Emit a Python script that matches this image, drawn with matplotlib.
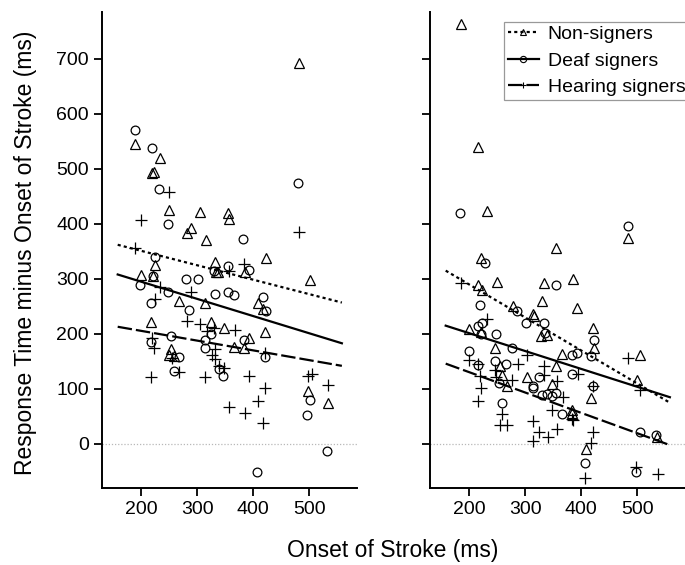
import matplotlib
matplotlib.use("Agg")
import matplotlib.pyplot as plt
from matplotlib.lines import Line2D

plt.rcParams["font.family"] = ["Liberation Sans", "DejaVu Sans"]

# -- Data ------------------------------------------------------------------
# left panel
L_NON_X = [482, 188, 233, 220, 222, 249, 304, 355, 356, 288, 282, 315, 225, 200,
           221, 268, 314, 331, 333, 337, 386, 423, 408, 417, 502, 325, 347, 218,
           254, 249, 258, 366, 384, 393, 421, 498, 533]
L_NON_Y = [693, 545, 520, 492, 494, 425, 421, 419, 409, 393, 384, 371, 325, 307,
           305, 259, 257, 330, 313, 312, 313, 338, 257, 245, 298, 221, 211, 221,
           172, 162, 159, 177, 174, 192, 204, 97, 75]

L_DEAF_X = [188, 220, 231, 248, 381, 480, 224, 221, 198, 248, 218, 280, 302, 286,
            330, 354, 392, 332, 354, 365, 417, 423, 325, 313, 313, 254, 218, 268,
            259, 338, 346, 384, 420, 502, 496, 532, 406]
L_DEAF_Y = [570, 537, 464, 400, 373, 475, 339, 305, 289, 276, 256, 300, 300, 244,
            315, 324, 316, 273, 276, 270, 267, 242, 200, 189, 174, 196, 186, 158,
            133, 136, 124, 189, 158, 80, 52, -12, -51]

L_HEAR_X = [199, 249, 482, 188, 234, 225, 288, 356, 383, 282, 304, 317, 330, 368,
            220, 222, 255, 268, 218, 314, 332, 326, 331, 339, 347, 421, 393, 421,
            356, 386, 408, 418, 498, 504, 533]
L_HEAR_Y = [407, 457, 385, 356, 286, 264, 276, 315, 327, 224, 218, 206, 210, 207,
            192, 174, 156, 131, 121, 122, 172, 162, 154, 141, 138, 165, 124, 101,
            68, 57, 78, 39, 124, 127, 107]

# right panel
R_NON_X = [186, 216, 231, 484, 355, 221, 215, 222, 249, 334, 385, 330, 393, 278,
           314, 316, 200, 221, 328, 339, 420, 423, 246, 255, 366, 355, 505, 303,
           259, 268, 348, 418, 499, 383, 384, 408, 535]
R_NON_Y = [764, 539, 424, 374, 357, 338, 288, 280, 295, 293, 299, 259, 248, 251,
           236, 233, 209, 204, 196, 198, 211, 174, 175, 142, 163, 142, 161, 122,
           126, 106, 109, 83, 116, 62, 56, -9, 12]

R_DEAF_X = [184, 484, 229, 354, 220, 286, 216, 222, 221, 247, 302, 333, 335, 422,
            417, 199, 277, 215, 246, 266, 383, 392, 384, 324, 253, 313, 313, 355,
            338, 330, 348, 421, 259, 366, 406, 505, 534, 497]
R_DEAF_Y = [419, 396, 328, 289, 253, 242, 215, 219, 200, 200, 219, 219, 201, 189,
            160, 169, 174, 144, 150, 146, 161, 166, 127, 122, 110, 106, 101, 92,
            91, 89, 87, 106, 74, 55, -34, 21, 16, -51]

R_HEAR_X = [185, 231, 199, 303, 216, 287, 334, 484, 394, 334, 246, 247, 220, 277,
            221, 216, 356, 368, 421, 505, 259, 255, 268, 347, 384, 385, 314, 325,
            340, 314, 356, 421, 418, 406, 497, 536]
R_HEAR_Y = [293, 227, 153, 162, 145, 145, 141, 157, 127, 125, 135, 122, 124, 116,
            101, 78, 115, 85, 106, 98, 55, 35, 35, 62, 46, 44, 41, 22,
            12, 6, 28, 22, 2, -61, -41, -55]

# fitted lines: y at the two ends of FIT_X
FIT_X = [158, 558]
L_FIT = {"non": [362, 257], "deaf": [308, 183], "hear": [213, 142]}
R_FIT = {"non": [315, 75], "deaf": [215, 85], "hear": [146, -2]}

LABELS = ["Non-signers", "Deaf signers", "Hearing signers"]
X_TICKS = [200, 300, 400, 500]
Y_TICKS = [0, 100, 200, 300, 400, 500, 600, 700]

# -- Styles ----------------------------------------------------------------
STYLE = {
    "non":  dict(marker="^", ms=7.0, ls=(0, (1.4, 1.4))),
    "deaf": dict(marker="o", ms=6.3, ls="-"),
    "hear": dict(marker="+", ms=8.5, ls=(0, (6.5, 1.8))),
}

fig = plt.figure(figsize=(6.85, 5.65), dpi=100)
ax_l = fig.add_axes([102 / 685, 77 / 565, 255 / 685, 476 / 565])
ax_r = fig.add_axes([430 / 685, 77 / 565, 255 / 685, 476 / 565])

panels = [
    (ax_l, {"non": (L_NON_X, L_NON_Y), "deaf": (L_DEAF_X, L_DEAF_Y),
            "hear": (L_HEAR_X, L_HEAR_Y)}, L_FIT),
    (ax_r, {"non": (R_NON_X, R_NON_Y), "deaf": (R_DEAF_X, R_DEAF_Y),
            "hear": (R_HEAR_X, R_HEAR_Y)}, R_FIT),
]

for ax, pts, fit in panels:
    ax.axhline(0, color="#b8b8b8", lw=0.9, ls=(0, (1, 1.5)), zorder=1)
    for key in ("non", "deaf", "hear"):
        st = STYLE[key]
        xs, ys = pts[key]
        ax.plot(xs, ys, ls="none", marker=st["marker"], ms=st["ms"],
                mfc="none", mec="black", mew=0.9, zorder=3)
        ax.plot(FIT_X, fit[key], color="black", lw=1.6, ls=st["ls"], zorder=4)

    ax.set_xlim(130, 585)
    ax.set_ylim(-80, 785)
    ax.set_xticks(X_TICKS)
    ax.set_yticks(Y_TICKS)
    ax.spines["top"].set_visible(False)
    ax.spines["right"].set_visible(False)
    for s in ("left", "bottom"):
        ax.spines[s].set_linewidth(1.4)
    ax.tick_params(direction="out", length=5.5, width=1.3, labelsize=14,
                   pad=4)

ax_r.set_yticklabels([])

fig.text(26 / 685, 1 - 253 / 565, "Response Time minus Onset of Stroke (ms)",
         fontsize=16.5, rotation=90, ha="center", va="center")
fig.text(393 / 685, 1 - 551 / 565, "Onset of Stroke (ms)", fontsize=16.5,
         ha="center", va="center")

# -- Legend ----------------------------------------------------------------
handles = [
    Line2D([0], [0], color="black", lw=1.6, ls=STYLE[k]["ls"],
           marker=STYLE[k]["marker"], ms=4.5, mfc="none", mec="black", mew=0.8)
    for k in ("non", "deaf", "hear")
]
leg = ax_r.legend(handles, LABELS, loc="upper left",
                  bbox_to_anchor=(74 / 255, 1 - 9.5 / 476), borderaxespad=0,
                  fontsize=14, frameon=True, fancybox=False, borderpad=0.2,
                  handlelength=1.6, handletextpad=0.45, labelspacing=0.46)
leg.get_frame().set_edgecolor("#808080")
leg.get_frame().set_linewidth(0.9)

fig.savefig("out.png", dpi=100, facecolor="white")
